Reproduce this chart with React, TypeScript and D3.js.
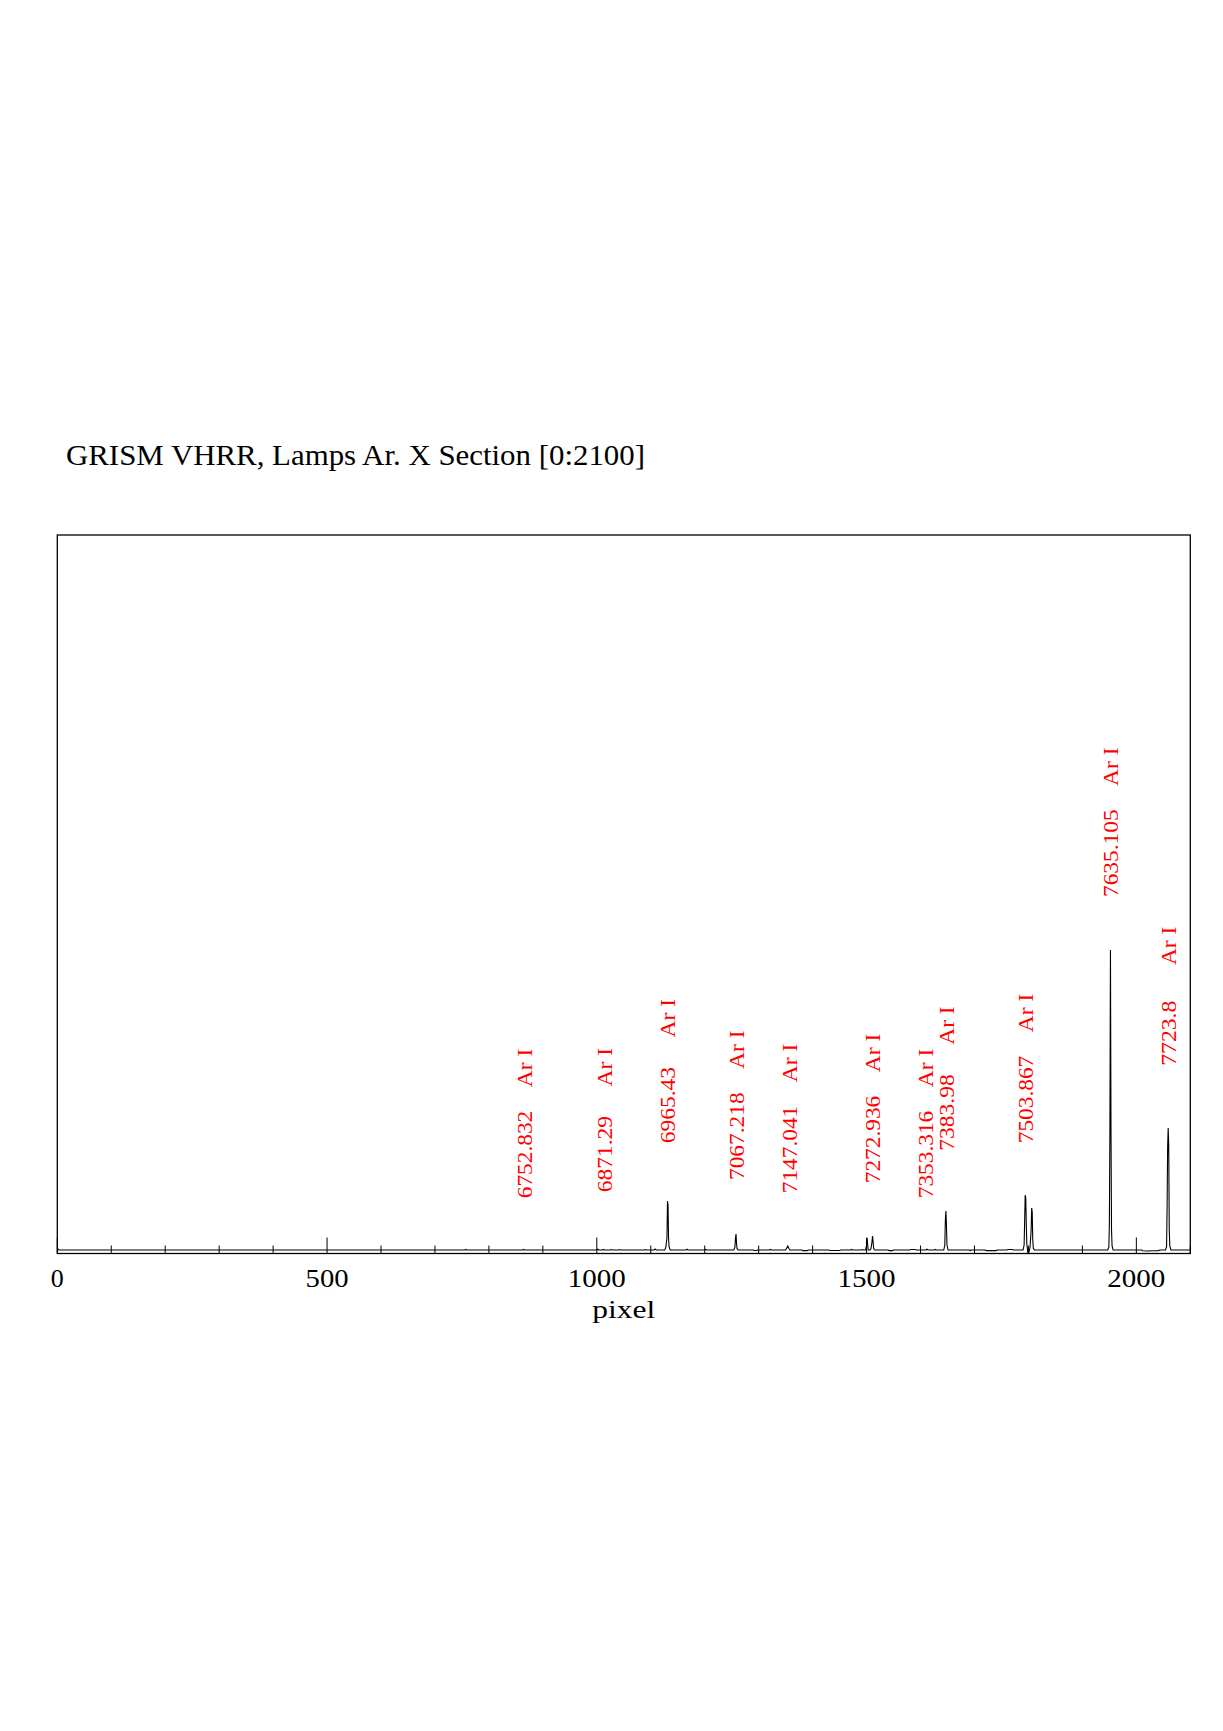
import React from "react";
import * as d3 from "d3";

// Spectrum samples (pixel, flux)
const specPixel = [
  0, 3, 755, 757, 759, 862, 864, 866,
  1000, 1002, 1004, 1010, 1012, 1014, 1025, 1027, 1029, 1040, 1042, 1044,
  1088, 1090, 1092, 1106, 1108, 1110,
  1126, 1128, 1129, 1130, 1131, 1132, 1133, 1134, 1136,
  1165, 1167, 1169, 1200, 1202, 1204,
  1254, 1256, 1257, 1258, 1259, 1260, 1262,
  1290, 1292, 1296, 1298, 1320, 1322, 1324,
  1350, 1352, 1354, 1356, 1358,
  1380, 1382, 1390, 1392, 1430, 1432, 1450, 1452, 1470, 1472, 1474, 1490, 1492, 1494,
  1498, 1500, 1501, 1502, 1503, 1506, 1508, 1510, 1511, 1512, 1513, 1515,
  1540, 1542, 1548, 1550, 1580, 1582, 1590, 1592, 1610, 1612, 1614, 1625, 1627, 1629,
  1643, 1645, 1646, 1647, 1648, 1649, 1651,
  1690, 1692, 1694, 1720, 1722, 1740, 1742, 1760, 1762, 1770, 1772,
  1790, 1792, 1793, 1794, 1795, 1796, 1797, 1799, 1801, 1803, 1805, 1806, 1807, 1808, 1809, 1811,
  1947, 1949, 1950, 1951, 1952, 1953, 1954, 1955, 1957,
  2010, 2012, 2020, 2030, 2040, 2045,
  2054, 2056, 2057, 2058, 2059, 2060, 2061, 2062, 2064,
  2100,
];
const specFlux = [
  150, 0, 0, 60, 0, 0, 60, 0,
  0, 80, 0, 0, 60, 0, 0, 50, 0, 0, 50, 0,
  0, 50, 0, 0, 100, 0,
  0, 300, 800, 1200, 4900, 4500, 1100, 300, 0,
  0, 80, 0, 0, 60, 0,
  0, 300, 1200, 1600, 600, 100, 0,
  0, -50, -50, 0, 0, 60, 0,
  0, 200, 400, 150, 0,
  0, -60, -60, 0, 0, -50, -50, 0, 0, 60, 0, 0, 50, 0,
  0, 500, 1200, 500, 0, 0, 100, 800, 1400, 900, 200, 0,
  0, -60, -60, 0, 0, 50, 50, 0, 0, 80, 0, 0, 60, 0,
  0, 500, 3000, 3900, 2500, 500, 0,
  0, -60, 0, 0, -60, -60, 0, 0, 50, 50, 0,
  0, 500, 3000, 5500, 5200, 2500, 600, -300, -200, 300, 2000, 4200, 3800, 1000, 200, 0,
  0, 300, 2500, 12200, 30000, 12000, 2000, 400, 0,
  0, -80, -100, -80, -60, 0,
  0, 300, 4200, 10300, 12200, 10500, 2000, 400, 0,
  0,
];

// Identified lines
const lineWavelengths = [
  "6752.832", "6871.29", "6965.43", "7067.218", "7147.041", "7272.936",
  "7353.316", "7383.98", "7503.867", "7635.105", "7723.8",
];
const linePixels = [865.6, 1015, 1131.5, 1258, 1358, 1511, 1609.6, 1647.3, 1795, 1952, 2059];
const labelFlux = [5170, 5770, 10670, 7000, 5670, 6670, 5170, 9930, 10670, 35300, 18420];
const lineIon = "Ar I";

const xMajorTicks = [0, 500, 1000, 1500, 2000];
const xMinorStep = 100;
const xDomain = [0, 2100];
const yDomain = [-350, 71500];

const titleText = "GRISM VHRR, Lamps Ar. X Section [0:2100]";
const xLabel = "pixel";

export default function App() {
  const W = 1223;
  const H = 1731;
  const left = 57.3;
  const right = 1190.3;
  const top = 535;
  const bottom = 1253.5;

  const x = d3.scaleLinear().domain(xDomain).range([left, right]);
  const y = d3.scaleLinear().domain(yDomain).range([bottom, top]);

  const pts: [number, number][] = specPixel.map((p, i) => [p, specFlux[i]]);
  const line = d3
    .line<[number, number]>()
    .x((d) => x(d[0]))
    .y((d) => y(d[1]));

  const minorTicks = d3.range(xDomain[0], xDomain[1] + 1, xMinorStep);

  const charAdv = 11.2;
  const redFont = 22;
  const redFamily = "'Liberation Serif', 'DejaVu Serif', serif";

  return (
    <svg
      width={W}
      height={H}
      style={{ position: "absolute", left: 0, top: 0, background: "#fff" }}
    >
      <rect x={0} y={0} width={W} height={H} fill="#fff" />
      <text
        x={66}
        y={465}
        fontFamily="'Liberation Serif', serif"
        fontSize={29}
        textLength={579}
        lengthAdjust="spacingAndGlyphs"
        fill="#000"
      >
        {titleText}
      </text>

      {/* spectrum */}
      <path d={line(pts) || ""} fill="none" stroke="#000" strokeWidth={1.1} />

      {/* ticks */}
      {minorTicks.map((t) => {
        const major = xMajorTicks.includes(t);
        return (
          <line
            key={t}
            x1={x(t)}
            x2={x(t)}
            y1={bottom}
            y2={bottom - (major ? 16 : 8)}
            stroke="#000"
            strokeWidth={1}
          />
        );
      })}

      {/* frame */}
      <rect
        x={left}
        y={top}
        width={right - left}
        height={bottom - top}
        fill="none"
        stroke="#000"
        strokeWidth={1.3}
      />

      {xMajorTicks.map((t) => (
        <text
          key={t}
          x={x(t)}
          y={1286.5}
          textAnchor="middle"
          fontFamily="'Liberation Serif', serif"
          fontSize={25}
          textLength={String(t).length * 15 - 2}
          lengthAdjust="spacingAndGlyphs"
          fill="#000"
        >
          {t}
        </text>
      ))}
      <text
        x={(left + right) / 2}
        y={1317.5}
        textAnchor="middle"
        fontFamily="'Liberation Serif', serif"
        fontSize={26}
        textLength={63}
        lengthAdjust="spacingAndGlyphs"
        fill="#000"
      >
        {xLabel}
      </text>

      {/* line identifications */}
      {lineWavelengths.map((wl, i) => {
        const bx = x(linePixels[i]) + 7.5;
        const by = y(labelFlux[i]);
        const n = wl.length;
        const numLen = n * charAdv - 2;
        const gap = 23.5 + (8 - n) * 6;
        return (
          <g key={wl} transform={`translate(${bx},${by}) rotate(-90)`} fill="#ff0000">
            <text
              x={0}
              y={0}
              fontFamily={redFamily}
              fontSize={redFont}
              textLength={numLen}
              lengthAdjust="spacingAndGlyphs"
            >
              {wl}
            </text>
            <text
              x={numLen + gap}
              y={0}
              fontFamily={redFamily}
              fontSize={redFont}
              textLength={38.5}
              lengthAdjust="spacingAndGlyphs"
            >
              {lineIon}
            </text>
          </g>
        );
      })}
    </svg>
  );
}
